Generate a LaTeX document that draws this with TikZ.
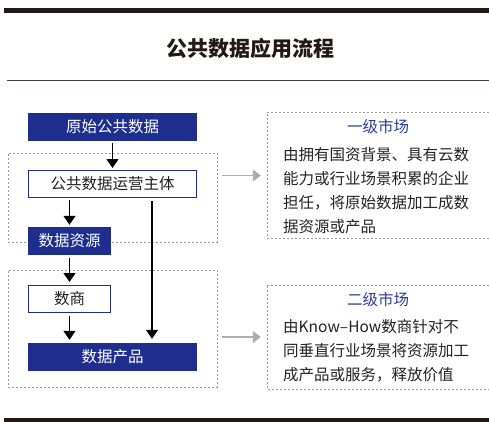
\documentclass[tikz,border=0pt]{standalone}
\usepackage{fontspec}
\setmainfont{Noto Sans CJK SC}
\usetikzlibrary{arrows.meta}
\definecolor{navy}{HTML}{1F2E8E}
\definecolor{darkbar}{HTML}{231815}
\definecolor{ttl}{HTML}{2E3A9C}
\definecolor{txt}{HTML}{222222}
\tikzset{
  x=1pt, y=-1pt,
  fillbox/.style={fill=navy, text=white, minimum height=28pt, inner sep=0pt, font=\fontsize{15.5}{18}\selectfont},
  linebox/.style={draw=navy, line width=1pt, fill=white, text=txt, minimum height=27pt, inner sep=0pt, font=\fontsize{15.5}{18}\selectfont},
  dashbox/.style={draw=gray!80, dashed, dash pattern=on 2pt off 2pt, line width=0.6pt, inner sep=0pt},
  flow/.style={line width=1.2pt, -{Triangle[width=12pt,length=9pt]}},
  side/.style={draw=gray!65, line width=1.8pt, -{Triangle[width=12pt,length=8pt]}},
  mkttitle/.style={text=ttl, font=\fontsize{15.5}{18}\selectfont, inner sep=0pt},
  mktbody/.style={text=txt, font=\fontsize{15.5}{24}\selectfont, align=left, inner sep=0pt, anchor=base west},
}
\begin{document}
\begin{tikzpicture}
\useasboundingbox (0,0) rectangle (489,422);
% bars
\fill[darkbar] (4,8) rectangle (489,13);
\fill[darkbar] (4,418) rectangle (489,422);
\draw[darkbar!85, line width=1pt] (7,81) -- (489,81);
\node[font=\fontsize{21}{24}\selectfont\bfseries, text=darkbar, inner sep=0pt] (title) at (250,48) {公共数据应用流程};
% dashed group boxes
\node[dashbox, minimum width=209pt, minimum height=89pt] (g1) at (112.5,197.5) {};
\node[dashbox, minimum width=209pt, minimum height=117pt] (g2) at (112.5,328.5) {};
% flow nodes
\node[fillbox, minimum width=169pt] (src) at (112.5,127) {原始公共数据};
\node[linebox, minimum width=168pt] (op) at (112.5,184) {公共数据运营主体};
\node[fillbox, minimum width=83pt] (res) at (69.5,241) {数据资源};
\node[linebox, minimum width=82pt] (dealer) at (69.5,299) {数商};
\node[fillbox, minimum width=169pt] (prod) at (112.5,357) {数据产品};
\coordinate (vx) at (152,0);
\coordinate (lx) at (69.5,0);
% flow arrows
\draw[flow, shorten <=2pt, shorten >=2pt] (src) -- (op);
\draw[flow, shorten <=2pt, shorten >=2pt] (op.south -| lx) -- (res.north);
\draw[flow, shorten <=3pt, shorten >=3pt] (res.south) -- (dealer.north);
\draw[flow, shorten <=3pt, shorten >=3pt] (dealer.south) -- (prod.north -| lx);
\draw[flow, shorten <=3pt, shorten >=4pt] (op.south -| vx) -- (prod.north -| vx);
% right market boxes
\node[minimum width=222pt, minimum height=125pt, inner sep=0pt] (m1) at (378,175.5) {};
\node[minimum width=222pt, minimum height=104pt, inner sep=0pt] (m2) at (378,337) {};
\draw[dashbox] (m1.north east) -- (m1.north west) -- (m1.south west) -- (m1.south east);
\draw[dashbox] (m2.north east) -- (m2.north west) -- (m2.south west) -- (m2.south east);
\node[mkttitle] (m1t) at (378,127) {一级市场};
\node[mktbody] (m1b) at (283,232) {由拥有国资背景、具有云数\\能力或行业场景积累的企业\\担任，将原始数据加工成数\\据资源或产品};
\node[mkttitle] (m2t) at (378,300) {二级市场};
\node[mktbody] (m2b) at (283,380) {由Know–How数商针对不\\同垂直行业场景将资源加工\\成产品或服务，释放价值};
% side arrows
\draw[side, shorten <=5pt, shorten >=6pt] (m1.west -| g1.east) -- (m1.west);
\draw[side, shorten <=5pt, shorten >=6pt] (m2.west -| g2.east) -- (m2.west);
\end{tikzpicture}
\end{document}
